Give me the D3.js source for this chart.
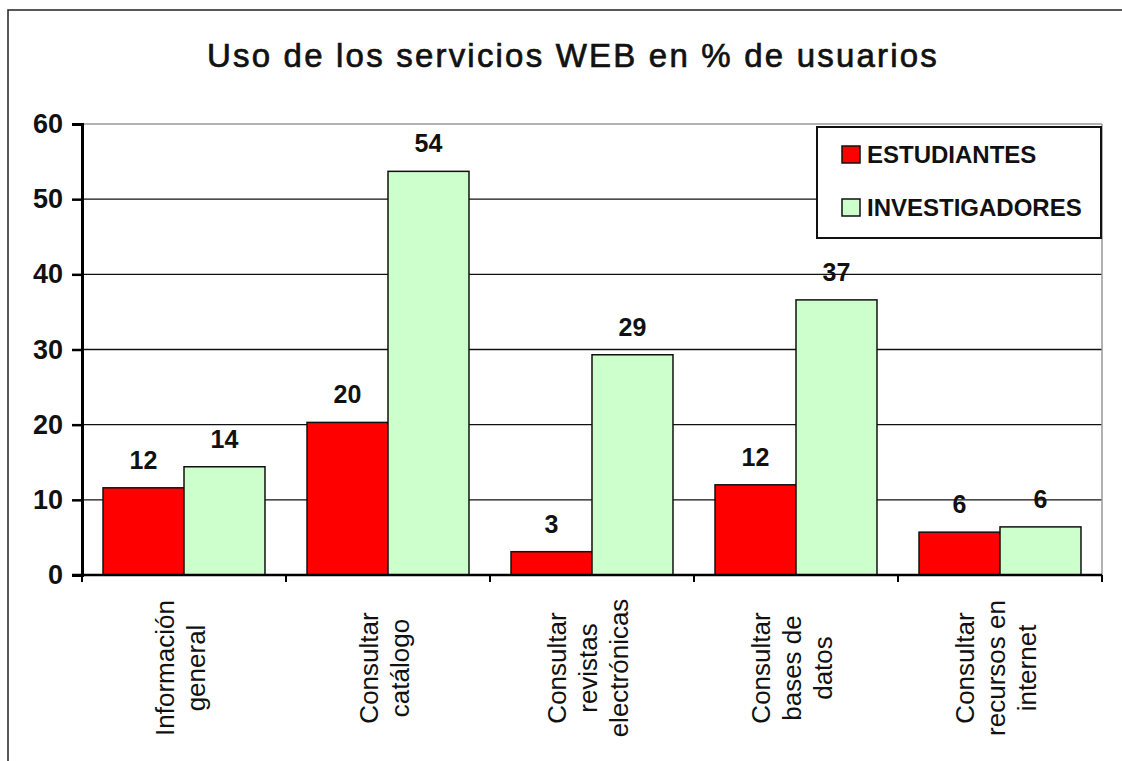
<!DOCTYPE html>
<html>
<head>
<meta charset="utf-8">
<script src="https://cdn.jsdelivr.net/npm/d3@7"></script>
<style>
  body { margin: 0; background: #fff; }
  svg { display: block; font-family: "Liberation Sans", Arial, sans-serif; }
</style>
</head>
<body>
<div id="chart"></div>
<script>
// data
let categories = [
    ['Información', 'general'],
    ['Consultar', 'catálogo'],
    ['Consultar', 'revistas', 'electrónicas'],
    ['Consultar', 'bases de', 'datos'],
    ['Consultar', 'recursos en', 'internet']
];
let seriesNames = ['ESTUDIANTES', 'INVESTIGADORES'];
let estudiantes = [11.6, 20.3, 3.1, 12.0, 5.7];
let investigadores = [14.4, 53.7, 29.3, 36.6, 6.4];
let yTicks = [0, 10, 20, 30, 40, 50, 60];
let colors = ['#ff0000', '#ccffcc'];

let width = 1122;
let height = 761;

// plot area
let plot = { left: 82, right: 1102, top: 124, bottom: 575 };

let svg = d3.select('#chart')
    .append('svg')
    .attr('width', width)
    .attr('height', height);

// outer frame of the chart object
svg.append('rect')
    .attr('x', 8)
    .attr('y', 10)
    .attr('width', 1200)
    .attr('height', 900)
    .attr('fill', '#fff')
    .attr('stroke', '#222')
    .attr('stroke-width', 1.5);

let keys = categories.map((c, i) => 'c' + i);

let x0 = d3.scaleBand()
    .domain(keys)
    .range([plot.left, plot.right])
    .paddingInner(0.206)
    .paddingOuter(0.103);

let x1 = d3.scaleBand()
    .domain(seriesNames)
    .range([0, x0.bandwidth()]);

let y = d3.scaleLinear()
    .domain([0, 60])
    .range([plot.bottom, plot.top]);

// title
svg.append('text')
    .text('Uso de los servicios WEB en % de usuarios')
    .attr('x', 573)
    .attr('y', 67)
    .attr('text-anchor', 'middle')
    .style('font-size', '33px')
    .style('letter-spacing', '2.2px')
    .style('fill', '#111')
    .style('stroke', '#111')
    .style('stroke-width', 0.7);

// grid lines
svg.append('g')
    .selectAll('line')
    .data(yTicks.filter(t => t > 0))
    .enter()
    .append('line')
    .attr('x1', plot.left)
    .attr('x2', plot.right)
    .attr('y1', d => y(d))
    .attr('y2', d => y(d))
    .attr('stroke', d => d === 60 ? '#999' : '#111')
    .attr('stroke-width', 1.3);

// right border of plot area
svg.append('line')
    .attr('x1', plot.right)
    .attr('x2', plot.right)
    .attr('y1', plot.top)
    .attr('y2', plot.bottom)
    .attr('stroke', '#999')
    .attr('stroke-width', 1.5);

// bars
let rows = keys.map((k, i) => ({ key: k, values: [estudiantes[i], investigadores[i]] }));

let group = svg.selectAll('.bar-group')
    .data(rows)
    .enter()
    .append('g')
    .attr('class', 'bar-group')
    .attr('transform', d => `translate(${x0(d.key)},0)`);

group.selectAll('rect')
    .data(d => d.values.map((v, j) => ({ name: seriesNames[j], value: v, j: j })))
    .enter()
    .append('rect')
    .attr('x', d => x1(d.name))
    .attr('y', d => y(d.value))
    .attr('width', x1.bandwidth())
    .attr('height', d => y(0) - y(d.value))
    .attr('fill', d => colors[d.j])
    .attr('stroke', '#111')
    .attr('stroke-width', 1.5);

group.selectAll('.val')
    .data(d => d.values.map((v, j) => ({ name: seriesNames[j], value: v })))
    .enter()
    .append('text')
    .attr('class', 'val')
    .text(d => Math.round(d.value))
    .attr('x', d => x1(d.name) + x1.bandwidth() / 2)
    .attr('y', d => y(d.value) - 19)
    .attr('text-anchor', 'middle')
    .style('font-size', '25px')
    .style('font-weight', 'bold')
    .style('fill', '#111');

// y axis
let yAxis = svg.append('g')
    .attr('transform', `translate(${plot.left},0)`)
    .call(d3.axisLeft(y).tickValues(yTicks).tickSize(10).tickPadding(9));
yAxis.select('.domain').attr('stroke', '#000').attr('stroke-width', 3);
yAxis.selectAll('.tick line').attr('stroke', '#000').attr('stroke-width', 2.5);
yAxis.selectAll('.tick text')
    .style('font-size', '27px')
    .style('font-weight', 'bold')
    .style('font-family', '"Liberation Sans", Arial, sans-serif')
    .attr('fill', '#111');

// x axis with ticks between categories
let step = x0.step();
let edges = keys.map(k => x0(k) - (step - x0.bandwidth()) / 2);
edges.push(edges[edges.length - 1] + step);

let xAxis = svg.append('g');
xAxis.append('line')
    .attr('x1', plot.left - 10)
    .attr('x2', plot.right)
    .attr('y1', plot.bottom)
    .attr('y2', plot.bottom)
    .attr('stroke', '#000')
    .attr('stroke-width', 2.5);
xAxis.selectAll('.xt')
    .data(edges)
    .enter()
    .append('line')
    .attr('class', 'xt')
    .attr('x1', d => d)
    .attr('x2', d => d)
    .attr('y1', plot.bottom)
    .attr('y2', plot.bottom + 7)
    .attr('stroke', '#000')
    .attr('stroke-width', 2);

// rotated category labels
let lineH = 31;
let labels = svg.selectAll('.cat')
    .data(rows)
    .enter()
    .append('text')
    .attr('class', 'cat')
    .attr('transform', d => `translate(${x0(d.key) + x0.bandwidth() / 2 - 4},668) rotate(-90)`)
    .attr('text-anchor', 'middle')
    .style('font-size', '26px')
    .style('fill', '#111');

labels.each(function (d, i) {
    let lines = categories[i];
    let n = lines.length;
    d3.select(this).selectAll('tspan')
        .data(lines)
        .enter()
        .append('tspan')
        .attr('x', 0)
        .attr('y', (t, k) => (k - (n - 1) / 2) * lineH + 9)
        .text(t => t);
});

// legend
let legend = svg.append('g');
legend.append('rect')
    .attr('x', 817)
    .attr('y', 127)
    .attr('width', 284)
    .attr('height', 111)
    .attr('fill', '#fff')
    .attr('stroke', '#111')
    .attr('stroke-width', 2);

let item = legend.selectAll('.item')
    .data(seriesNames)
    .enter()
    .append('g')
    .attr('class', 'item')
    .attr('transform', (d, i) => `translate(842,${146 + i * 53})`);

item.append('rect')
    .attr('width', 18)
    .attr('height', 17)
    .attr('fill', (d, i) => colors[i])
    .attr('stroke', '#111')
    .attr('stroke-width', 1.5);

item.append('text')
    .text(d => d)
    .attr('x', 25)
    .attr('y', 17)
    .style('font-size', '24px')
    .style('font-weight', 'bold')
    .style('fill', '#111');
</script>
</body>
</html>
